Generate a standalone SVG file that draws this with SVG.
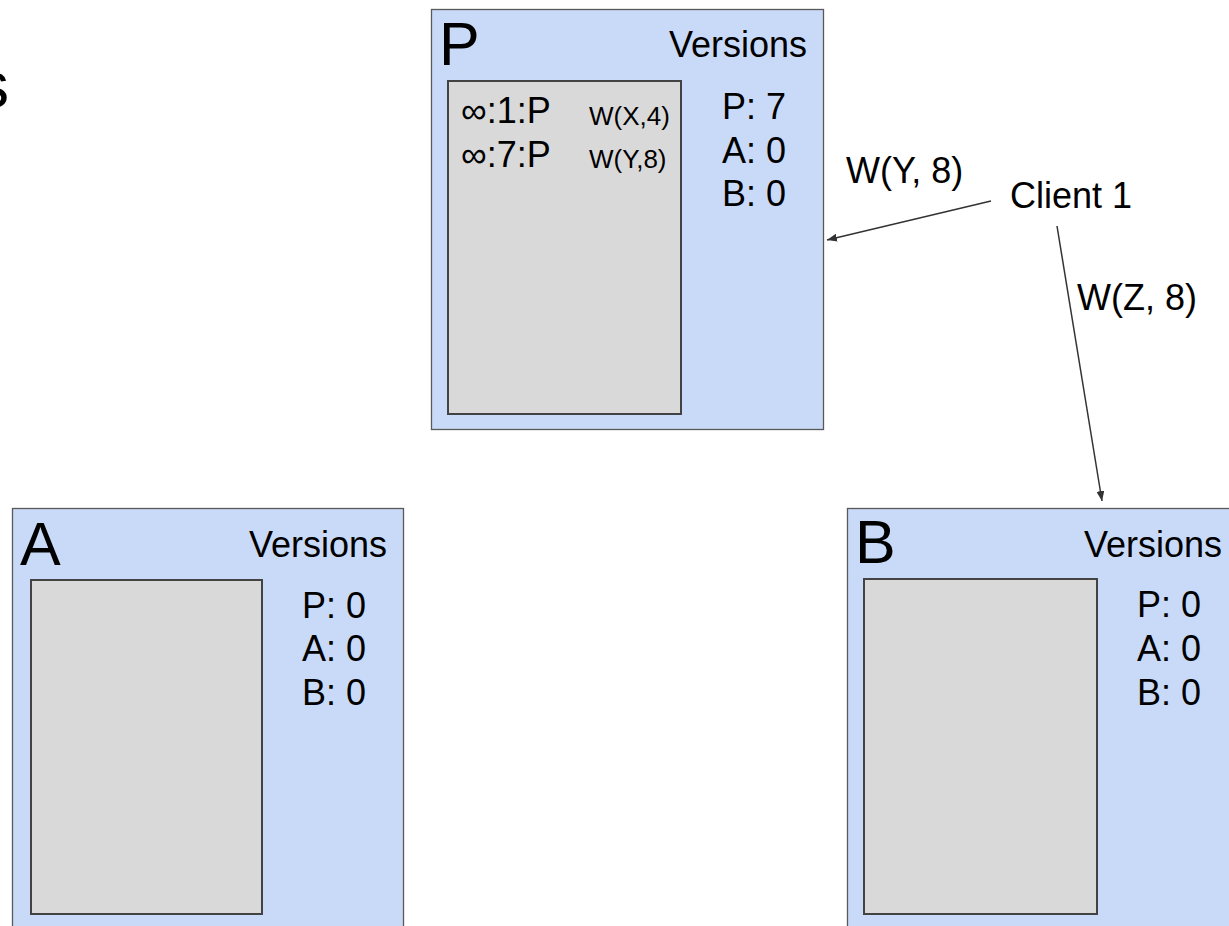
<svg xmlns="http://www.w3.org/2000/svg" width="1229" height="926" viewBox="0 0 1229 926">
<defs>
<marker id="ah" viewBox="0 0 10 8" refX="10" refY="4" markerWidth="10" markerHeight="8" markerUnits="userSpaceOnUse" orient="auto">
<path d="M0,0 L10,4 L0,8 Z" fill="#333333"/>
</marker>
</defs>
<style>
.outer{fill:#c9daf8;stroke:#595959;stroke-width:1.3}
.inner{fill:#d9d9d9;stroke:#434343;stroke-width:2}
text{font-family:"Liberation Sans",Arial,sans-serif;fill:#000}
.big{font-size:61px}
.t{font-size:36px}
.s{font-size:36px}
.sm{font-size:26px}
.conn{stroke:#333333;stroke-width:1.5;fill:none;marker-end:url(#ah)}
</style>
<text x="-23" y="107" style="font-size:64px">s</text>
<g id="nodeP">
<rect class="outer" x="431.5" y="9.5" width="392" height="420"/>
<rect class="inner" x="448" y="81" width="233" height="333"/>
<text class="big" x="439" y="65">P</text>
<text class="t" x="807" y="57" text-anchor="end">Versions</text>
<text class="t" x="722" y="119">P: 7</text>
<text class="t" x="722" y="163">A: 0</text>
<text class="t" x="722" y="206">B: 0</text>
<text class="s" x="461" y="123">∞:1:P</text>
<text class="sm" x="589" y="125">W(X,4)</text>
<text class="s" x="461" y="167">∞:7:P</text>
<text class="sm" x="589" y="168">W(Y,8)</text>
</g>
<g id="nodeA">
<rect class="outer" x="12.5" y="508.5" width="391" height="430"/>
<rect class="inner" x="31" y="580" width="231" height="334"/>
<text class="big" x="20" y="565">A</text>
<text class="t" x="387" y="557" text-anchor="end">Versions</text>
<text class="t" x="302" y="618">P: 0</text>
<text class="t" x="302" y="661">A: 0</text>
<text class="t" x="302" y="705">B: 0</text>
</g>
<g id="nodeB">
<rect class="outer" x="847.5" y="508.5" width="392" height="430"/>
<rect class="inner" x="864" y="579" width="233" height="335"/>
<text class="big" x="855" y="563">B</text>
<text class="t" x="1222" y="557" text-anchor="end">Versions</text>
<text class="t" x="1137" y="617">P: 0</text>
<text class="t" x="1137" y="661">A: 0</text>
<text class="t" x="1137" y="705">B: 0</text>
</g>
<g id="client1">
<text class="t" x="1010" y="208">Client 1</text>
</g>
<g id="connectors">
<line class="conn" x1="991" y1="201" x2="827" y2="240"/>
<line class="conn" x1="1057" y1="226" x2="1102" y2="501"/>
<text class="t" x="846" y="183">W(Y, 8)</text>
<text class="t" x="1077" y="310">W(Z, 8)</text>
</g>
</svg>
